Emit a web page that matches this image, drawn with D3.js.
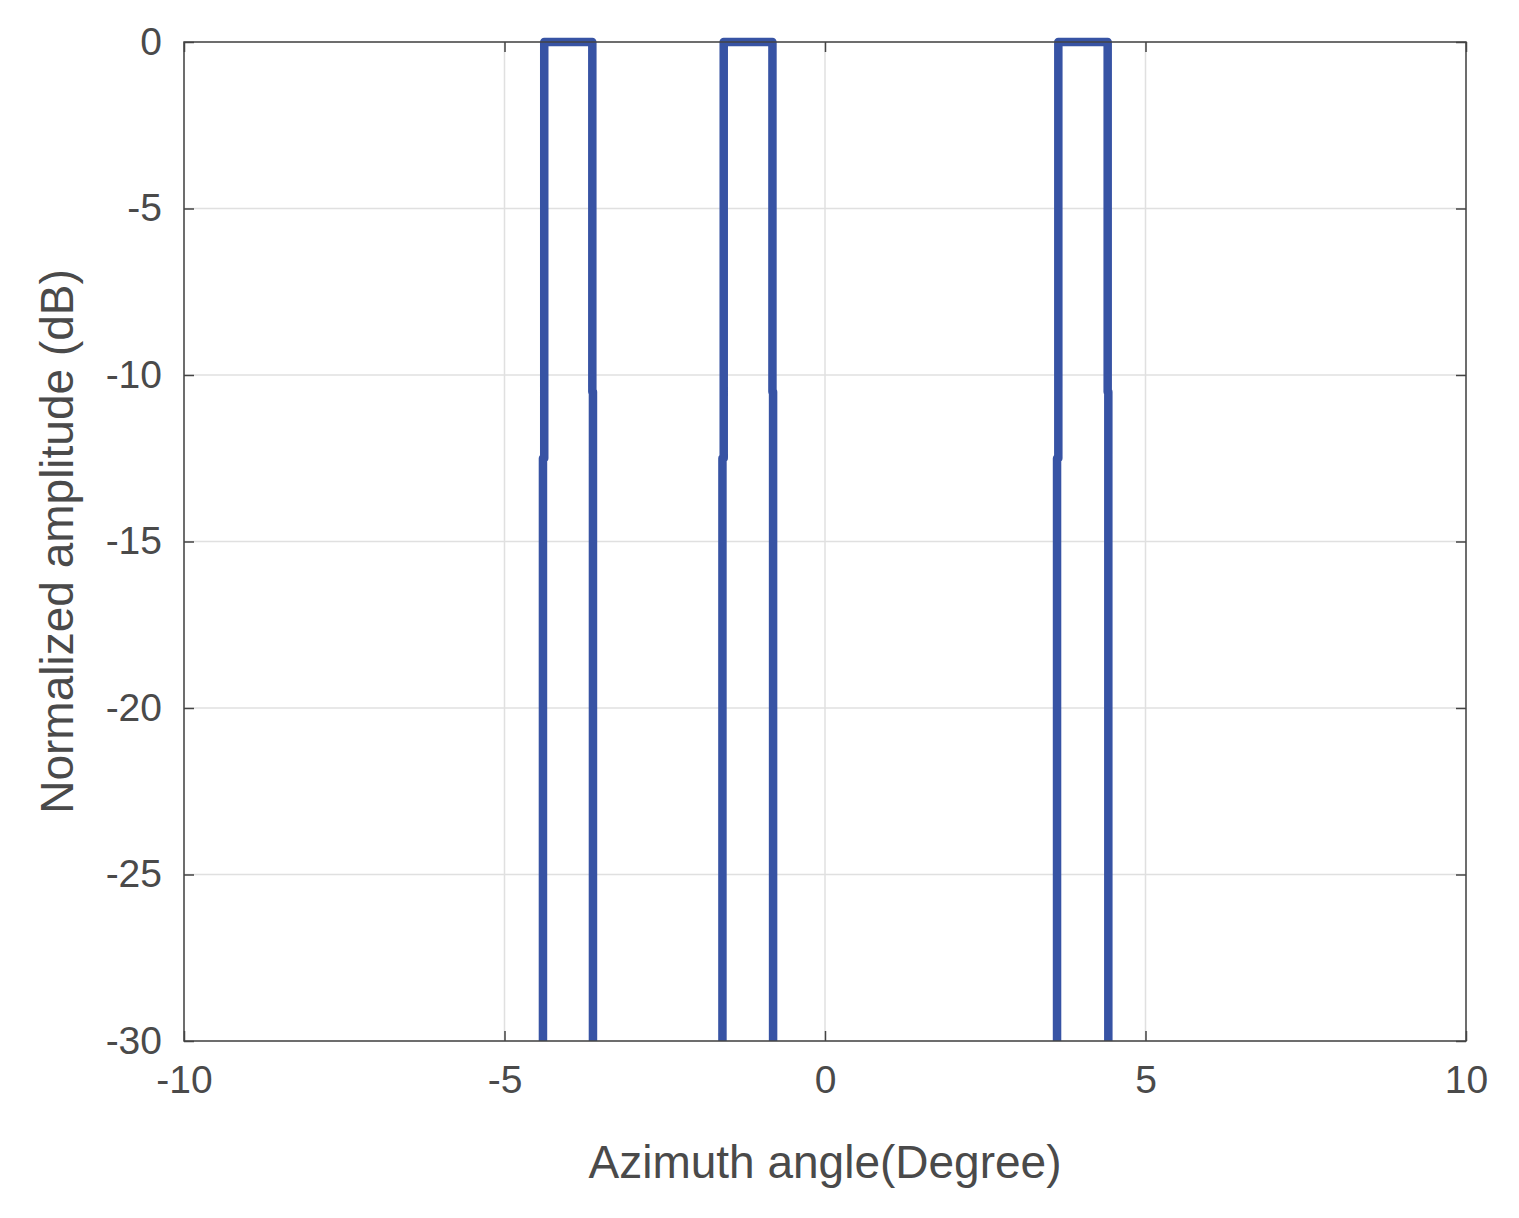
<!DOCTYPE html>
<html><head><meta charset="utf-8">
<script src="https://cdn.jsdelivr.net/npm/d3@7"></script>
<style>body{margin:0;background:#fff}text{font-family:Arial,"Liberation Sans",sans-serif;fill:#4a4a4a}</style>
</head><body>
<svg id="chart" width="1519" height="1218"></svg>
<script>
// Pulse edges (degree): rising edge bottom/top, falling edge top/bottom
const pulseLeft = [[-4.40, -4.38], [-1.60, -1.58], [3.62, 3.64]];
const pulseRight = [[-3.63, -3.62], [-0.82, -0.81], [4.41, 4.42]];
const kneeDb = [-12.5, -10.5];
const xTicks = [-10, -5, 0, 5, 10];
const yTicks = [0, -5, -10, -15, -20, -25, -30];

const svg = d3.select("#chart");
const m = {l: 184, r: 1466, t: 42, b: 1041};
const x = d3.scaleLinear().domain([-10, 10]).range([m.l, m.r]);
const y = d3.scaleLinear().domain([-30, 0]).range([m.b, m.t]);

// grid
svg.append("g").selectAll("line").data(xTicks).join("line")
  .attr("x1", d => x(d)).attr("x2", d => x(d)).attr("y1", m.t).attr("y2", m.b)
  .attr("stroke", "#e0e0e0").attr("stroke-width", 1.5);
svg.append("g").selectAll("line").data(yTicks).join("line")
  .attr("y1", d => y(d)).attr("y2", d => y(d)).attr("x1", m.l).attr("x2", m.r)
  .attr("stroke", "#e0e0e0").attr("stroke-width", 1.5);

// axes
const ax = (g, a) => g.call(a).call(g => g.select(".domain").remove())
  .call(g => g.selectAll("line").attr("stroke", "#444").attr("stroke-width", 1.5))
  .call(g => g.selectAll("text").attr("font-size", 39).attr("fill", "#4a4a4a"));
svg.append("g").attr("transform", `translate(0,${m.b})`)
  .call(g => ax(g, d3.axisBottom(x).tickValues(xTicks).tickSize(-10).tickPadding(24)));
svg.append("g").attr("transform", `translate(0,${m.t})`)
  .call(g => ax(g, d3.axisTop(x).tickValues(xTicks).tickSize(-10).tickFormat("")));
svg.append("g").attr("transform", `translate(${m.l},0)`)
  .call(g => ax(g, d3.axisLeft(y).tickValues(yTicks).tickSize(-10).tickPadding(22)));
svg.append("g").attr("transform", `translate(${m.r},0)`)
  .call(g => ax(g, d3.axisRight(y).tickValues(yTicks).tickSize(-10).tickFormat("")));
svg.selectAll("text").filter(function(){return this.textContent.startsWith("−")})
  .text(function(){return this.textContent.replace("−","-")});

// line
const pts = [];
pulseLeft.forEach((l, i) => {
  const r = pulseRight[i];
  pts.push([l[0], -30], [l[0], kneeDb[0]], [l[1], kneeDb[0]], [l[1], 0],
           [r[0], 0], [r[0], kneeDb[1]], [r[1], kneeDb[1]], [r[1], -30]);
  pts.push(null);
});
const line = d3.line().defined(d => d).x(d => x(d[0])).y(d => y(d[1]));
svg.append("path").attr("d", line(pts)).attr("fill", "none")
  .attr("stroke", "#3753a4").attr("stroke-width", 8.5).attr("stroke-linejoin", "round");

svg.append("rect").attr("x", m.l).attr("y", m.t).attr("width", m.r - m.l).attr("height", m.b - m.t)
  .attr("fill", "none").attr("stroke", "#444").attr("stroke-width", 1.5);

svg.append("text").attr("x", (m.l + m.r) / 2).attr("y", 1178).attr("text-anchor", "middle")
  .attr("font-size", 46).text("Azimuth angle(Degree)");
svg.append("text").attr("transform", `translate(73,${(m.t + m.b) / 2}) rotate(-90)`)
  .attr("text-anchor", "middle").attr("font-size", 46).text("Normalized amplitude (dB)");
</script>
</body></html>
